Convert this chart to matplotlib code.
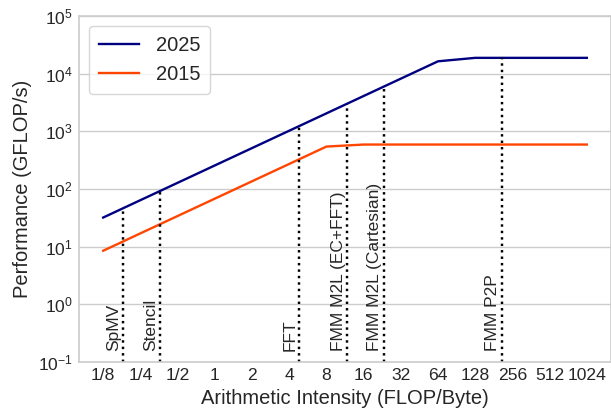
import numpy as np
import matplotlib
matplotlib.use("Agg")
import matplotlib.pyplot as plt
from matplotlib.ticker import FixedLocator, FixedFormatter, NullLocator, LogLocator

# Arithmetic intensity grid (FLOP/Byte) and attainable performance (GFLOP/s)
intensity = [0.125, 0.25, 0.5, 1, 2, 4, 8, 16, 32, 64, 128, 256, 512, 1024]
tick_labels = ["1/8", "1/4", "1/2", "1", "2", "4", "8", "16", "32", "64",
               "128", "256", "512", "1024"]
perf_2025 = [32, 64, 128, 256, 512, 1024, 2048, 4096, 8192, 16384,
             18800, 18800, 18800, 18800]
perf_2015 = [8.5, 17, 34, 68, 136, 272, 544, 590, 590, 590,
             590, 590, 590, 590]

# Kernels and their arithmetic intensity
kernel_names = ["SpMV", "Stencil", "FFT", "FMM M2L (EC+FFT)",
                "FMM M2L (Cartesian)", "FMM P2P"]
kernel_intensity = [0.18, 0.36, 4.8, 11.8, 23.4, 210]

plt.rcParams.update({
    "font.family": ["Liberation Sans", "DejaVu Sans"],
    "mathtext.fontset": "custom",
    "mathtext.rm": "Liberation Sans",
    "mathtext.it": "Liberation Sans:italic",
    "axes.edgecolor": "#cccccc",
    "text.color": "#262626",
    "axes.labelcolor": "#262626",
    "xtick.color": "#262626",
    "ytick.color": "#262626",
})

W, H = 611, 417
fig = plt.figure(figsize=(W / 100, H / 100), dpi=100)
ax = fig.add_axes([79 / W, 1 - 362 / H, (611 - 79) / W, (362 - 16) / H])

ax.plot(intensity, perf_2025, color="#000080", lw=1.7, label="2025")
ax.plot(intensity, perf_2015, color="#ff4500", lw=1.7, label="2015")

ax.set_xscale("log", base=2)
ax.set_yscale("log")
ax.set_ylim(0.1, 1e5)

log_x = np.log10(intensity)
log_y = np.log10(perf_2025)
for name, xi in zip(kernel_names, kernel_intensity):
    top = 10 ** np.interp(np.log10(xi), log_x, log_y)
    ax.plot([xi, xi], [0.1, top], color="black", ls=":", lw=1.75)
    ax.text(xi / 1.03, 0.155, name, rotation=90, ha="right", va="bottom",
            fontsize=12.5, color="#262626")

ax.xaxis.set_major_locator(FixedLocator(intensity))
ax.xaxis.set_major_formatter(FixedFormatter(tick_labels))
ax.xaxis.set_minor_locator(NullLocator())
ax.yaxis.set_major_locator(LogLocator(base=10, numticks=10))
ax.yaxis.set_minor_locator(NullLocator())
ax.tick_params(axis="both", length=0, labelsize=12.6)
ax.tick_params(axis="x", pad=4.5)
ax.tick_params(axis="y", pad=4.5)

ax.grid(axis="y", color="#cccccc", lw=1)
ax.grid(axis="x", visible=False)
ax.set_axisbelow(True)
for s in ax.spines.values():
    s.set_color("#cccccc")
    s.set_linewidth(1.2)

ax.set_xlabel("Arithmetic Intensity (FLOP/Byte)", fontsize=14.5, labelpad=4)
ax.set_ylabel("Performance (GFLOP/s)", fontsize=14.5, labelpad=4)

leg = ax.legend(loc="upper left", fontsize=14.5, frameon=True,
                edgecolor="#cccccc", fancybox=True, borderpad=0.5)
leg.get_frame().set_linewidth(1.0)

fig.savefig("out.png", dpi=100)
